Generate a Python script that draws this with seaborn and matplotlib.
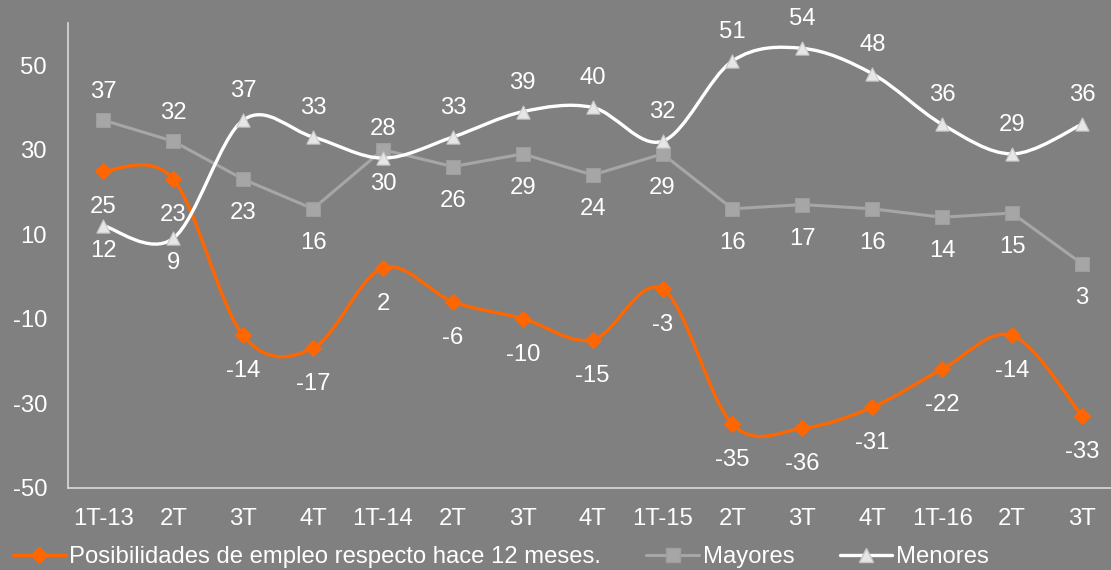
# Line chart: employment expectations (posibilidades / mayores / menores) by quarter
import numpy as np
import pandas as pd
import matplotlib
matplotlib.use("Agg")
import matplotlib.pyplot as plt
import seaborn as sns
from matplotlib.path import Path
from matplotlib.patches import PathPatch
from matplotlib.lines import Line2D

# data
quarters = ["1T-13", "2T", "3T", "4T", "1T-14", "2T", "3T", "4T",
            "1T-15", "2T", "3T", "4T", "1T-16", "2T", "3T"]
posibilidades = [25, 23, -14, -17, 2, -6, -10, -15, -3, -35, -36, -31, -22, -14, -33]
mayores = [37, 32, 23, 16, 30, 26, 29, 24, 29, 16, 17, 16, 14, 15, 3]
menores = [12, 9, 37, 33, 28, 33, 39, 40, 32, 51, 54, 48, 36, 29, 36]
y_ticks = [-50, -30, -10, 10, 30, 50]

name_pos = "Posibilidades de empleo respecto hace 12 meses."
name_may = "Mayores"
name_men = "Menores"

BG = "#808080"
ORANGE = "#FF6600"
GRAY = "#A6A6A6"
WHITE = "#FFFFFF"
TRI_FILL = "#E6E6E6"
AXIS = "#D9D9D9"
FS = 17.2


def smooth_path(x, y):
    # Catmull-Rom style bezier through the points (like Excel "smoothed line")
    pts = np.column_stack([x, y]).astype(float)
    n = len(pts)
    verts = [pts[0]]
    codes = [Path.MOVETO]
    for i in range(n - 1):
        p0 = pts[max(i - 1, 0)]
        p1 = pts[i]
        p2 = pts[i + 1]
        p3 = pts[min(i + 2, n - 1)]
        verts += [p1 + (p2 - p0) / 6, p2 - (p3 - p1) / 6, p2]
        codes += [Path.CURVE4] * 3
    return Path(verts, codes)


def label_points(ax, values, offsets):
    for i, v in enumerate(values):
        ax.annotate(str(v), (i, v), xytext=(0, offsets[i]), textcoords="offset pixels",
                    ha="center", va="center", color="white", fontsize=FS, zorder=10)


def main():
    sns.set_style("white")
    plt.rcParams["font.family"] = ["Liberation Sans", "DejaVu Sans"]
    plt.rcParams["axes.unicode_minus"] = False

    df = pd.DataFrame({
        "x": np.arange(len(quarters)),
        "quarter": quarters,
        "pos": posibilidades,
        "may": mayores,
        "men": menores,
    })

    fig = plt.figure(figsize=(11.11, 5.70), dpi=100, facecolor=BG)
    ax = fig.add_axes([68.4 / 1111, 1 - 487.5 / 570, 1048.5 / 1111, 464.5 / 570])
    ax.set_facecolor(BG)

    # orange series, smoothed
    ax.add_patch(PathPatch(smooth_path(df["x"], df["pos"]), facecolor="none",
                           edgecolor=ORANGE, lw=2.4, zorder=3))
    sns.scatterplot(data=df, x="x", y="pos", marker="D", s=72, color=ORANGE,
                    edgecolor=ORANGE, linewidth=0.5, ax=ax, zorder=4, legend=False)

    # gray series, straight segments
    sns.lineplot(data=df, x="x", y="may", color=GRAY, lw=2.2, marker="s",
                 markersize=9.5, markerfacecolor=GRAY, markeredgecolor="#9E9E9E",
                 ax=ax, zorder=5, legend=False)

    # white series, smoothed
    ax.add_patch(PathPatch(smooth_path(df["x"], df["men"]), facecolor="none",
                           edgecolor=WHITE, lw=2.4, zorder=6))
    sns.scatterplot(data=df, x="x", y="men", marker="^", s=90, color=TRI_FILL,
                    edgecolor="#C8C8C8", linewidth=0.8, ax=ax, zorder=7, legend=False)

    # data labels
    n = len(quarters)
    label_points(ax, posibilidades, [-36] * n)
    label_points(ax, mayores, [28, 28] + [-34] * (n - 2))
    label_points(ax, menores, [-25, -25] + [29] * (n - 2))

    ax.set_xlim(-0.5, n - 0.5)
    ax.set_ylim(-50, 60)
    ax.set_xticks(df["x"])
    ax.set_xticklabels(quarters)
    ax.set_yticks(y_ticks)
    ax.set_xlabel("")
    ax.set_ylabel("")
    ax.tick_params(axis="both", length=0, colors="white", labelsize=FS)
    ax.tick_params(axis="y", pad=15.4)
    ax.tick_params(axis="x", pad=15)
    ax.grid(False)
    for side in ["top", "right"]:
        ax.spines[side].set_visible(False)
    for side in ["left", "bottom"]:
        ax.spines[side].set_color(AXIS)
        ax.spines[side].set_linewidth(1.2)

    handles = [
        Line2D([0], [0], color=ORANGE, lw=2.4, marker="D", ms=8.5,
               mfc=ORANGE, mec=ORANGE),
        Line2D([0], [0], color=GRAY, lw=2.2, marker="s", ms=9.5,
               mfc=GRAY, mec="#9E9E9E"),
        Line2D([0], [0], color=WHITE, lw=2.4, marker="^", ms=9.5,
               mfc=TRI_FILL, mec="#C8C8C8"),
    ]
    fig.legend(handles, [name_pos, name_may, name_men], loc="center left",
               bbox_to_anchor=(13 / 1111, 1 - 557 / 570), ncol=3, frameon=False,
               fontsize=FS, labelcolor="white", borderpad=0, borderaxespad=0,
               handlelength=2.2, handletextpad=0.15, columnspacing=1.9)

    fig.savefig("out.png", dpi=100, facecolor=BG)
    plt.close(fig)


if __name__ == "__main__":
    main()
